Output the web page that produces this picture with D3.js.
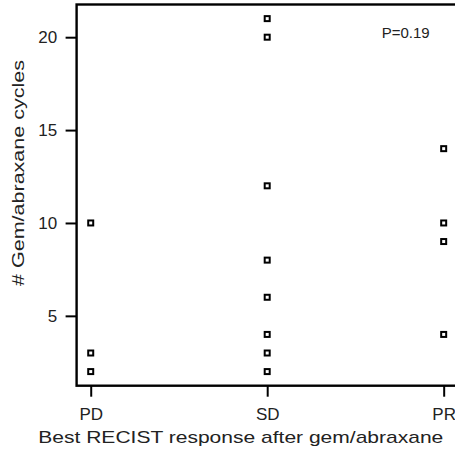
<!DOCTYPE html>
<html>
<head>
<meta charset="utf-8">
<script src="https://cdn.jsdelivr.net/npm/d3@7"></script>
<style>
  html, body { margin: 0; padding: 0; background: #fff; }
  svg { display: block; }
  text { font-family: "Liberation Sans", Arial, Helvetica, sans-serif; fill: #222; }
</style>
</head>
<body>
<svg id="chart" width="455" height="451"></svg>
<script>
// ---- data ----
const categories = ["PD", "SD", "PR"];
const pdValues = [10, 3, 2];
const sdValues = [21, 20, 12, 8, 6, 4, 3, 2];
const prValues = [14, 10, 9, 4];
const yTicks = [5, 10, 15, 20];
const pValueLabel = "P=0.19";
const xTitle = "Best RECIST response after gem/abraxane";
const yTitle = "# Gem/abraxane cycles";

const groups = [pdValues, sdValues, prValues];
const points = [];
groups.forEach((vals, i) => vals.forEach(v => points.push({ cat: i + 1, value: v })));

// ---- layout ----
const svg = d3.select("#chart");
const plotL = 76.6, plotR = 457.8, plotT = 4.5, plotB = 385.7;

const x = d3.scaleLinear().domain([0.92, 3.08]).range([plotL, plotR]);
const y = d3.scaleLinear().domain([1.24, 21.76]).range([plotB, plotT]);

// y axis
const yAxis = d3.axisLeft(y).tickValues(yTicks).tickSize(11).tickPadding(8.5).tickSizeOuter(0);
const gy = svg.append("g").attr("transform", `translate(${plotL},0)`).call(yAxis);
gy.select(".domain").remove();
gy.selectAll(".tick line").attr("stroke", "#000").attr("stroke-width", 2);
gy.selectAll(".tick text").attr("font-size", 17).attr("fill", "#222")
  .attr("font-family", '"Liberation Sans", Arial, Helvetica, sans-serif');

// x axis
const xAxis = d3.axisBottom(x).tickValues([1, 2, 3]).tickFormat(d => categories[d - 1])
  .tickSize(11).tickPadding(10).tickSizeOuter(0);
const gx = svg.append("g").attr("transform", `translate(0,${plotB})`).call(xAxis);
gx.select(".domain").remove();
gx.selectAll(".tick line").attr("stroke", "#000").attr("stroke-width", 2);
gx.selectAll(".tick text").attr("font-size", 17).attr("fill", "#222")
  .attr("dy", null).attr("y", 34.3)
  .attr("font-family", '"Liberation Sans", Arial, Helvetica, sans-serif');

// box
svg.append("rect")
  .attr("x", plotL).attr("y", plotT)
  .attr("width", plotR - plotL).attr("height", plotB - plotT)
  .attr("fill", "none").attr("stroke", "#000").attr("stroke-width", 2.4);

// points
svg.append("g").selectAll("rect.pt").data(points).join("rect")
  .attr("class", "pt")
  .attr("x", d => x(d.cat) - 2.5)
  .attr("y", d => y(d.value) - 2.5)
  .attr("width", 5).attr("height", 5)
  .attr("fill", "#fff").attr("stroke", "#000").attr("stroke-width", 2);

// p-value
svg.append("text").attr("x", 381.7).attr("y", 38.3)
  .attr("font-size", 15).text(pValueLabel);

// x title
svg.append("text").attr("x", 38.3).attr("y", 443.3)
  .attr("font-size", 17)
  .attr("textLength", 405).attr("lengthAdjust", "spacingAndGlyphs")
  .text(xTitle);

// y title
svg.append("text")
  .attr("transform", "translate(24,286) rotate(-90)")
  .attr("x", 0).attr("y", 0)
  .attr("font-size", 17)
  .attr("textLength", 226).attr("lengthAdjust", "spacingAndGlyphs")
  .text(yTitle);
</script>
</body>
</html>
